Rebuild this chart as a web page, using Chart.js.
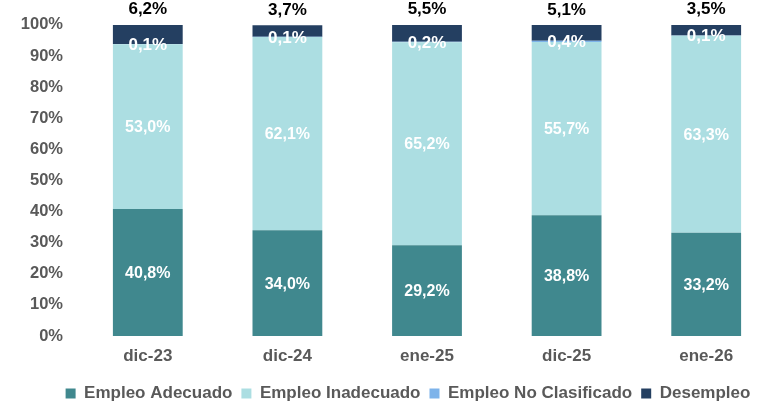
<!DOCTYPE html>
<html>
<head>
<meta charset="utf-8">
<script src="https://cdn.jsdelivr.net/npm/chart.js@4/dist/chart.umd.min.js"></script>
<style>
  html, body { margin: 0; padding: 0; background: #fff; }
  #wrap { width: 776px; height: 403px; position: relative; }
</style>
</head>
<body>
<div id="wrap"><canvas id="c"></canvas></div>
<script>
// Periods shown on the x axis
const periods = ['dic-23', 'dic-24', 'ene-25', 'dic-25', 'ene-26'];

// Share of each labour-market group (%)
const empleoAdecuado      = [40.8, 34.0, 29.2, 38.8, 33.2];
const empleoInadecuado    = [53.0, 62.1, 65.2, 55.7, 63.3];
const empleoNoClasificado = [0.1, 0.1, 0.2, 0.4, 0.1];
const desempleo           = [6.2, 3.7, 5.5, 5.1, 3.5];

const seriesNames = ['Empleo Adecuado', 'Empleo Inadecuado', 'Empleo No Clasificado', 'Desempleo'];

const FONT = "'Liberation Sans', Arial, Helvetica, sans-serif";
const GREY = '#595959';

const fmt = v => v.toFixed(1).replace('.', ',') + '%';

// Writes each segment's value on or above its bar
const barLabels = {
  id: 'barLabels',
  afterDatasetsDraw(chart) {
    const ctx = chart.ctx;
    ctx.save();
    ctx.textAlign = 'center';
    ctx.textBaseline = 'middle';
    chart.data.datasets.forEach((ds, di) => {
      const meta = chart.getDatasetMeta(di);
      if (meta.hidden) return;
      meta.data.forEach((bar, i) => {
        const v = ds.data[i];
        const p = bar.getProps(['x', 'y', 'base'], true);
        if (di === 0 || di === 1) {
          ctx.font = 'bold 16px ' + FONT;
          ctx.fillStyle = '#ffffff';
          ctx.fillText(fmt(v), p.x, (p.y + p.base) / 2 + 1);
        } else if (di === 2) {
          ctx.font = 'bold 17px ' + FONT;
          ctx.fillStyle = '#ffffff';
          ctx.fillText(fmt(v), p.x, (p.y + p.base) / 2 + 1);
        } else {
          ctx.font = 'bold 17px ' + FONT;
          ctx.fillStyle = '#000000';
          ctx.fillText(fmt(v), p.x, p.y - 15);
        }
      });
    });
    ctx.restore();
  }
};

// Nudges the legend row right and down
const legendShift = {
  id: 'legendShift',
  afterLayout(chart) {
    const lg = chart.legend;
    if (lg) {
      lg.left += 20; lg.right += 20;
      lg.top += 9; lg.bottom += 9;
    }
  }
};

const colors = ['#40888E', '#ACDEE2', '#7DB3EA', '#243F61'];
const values = [empleoAdecuado, empleoInadecuado, empleoNoClasificado, desempleo];

new Chart(document.getElementById('c'), {
  type: 'bar',
  data: {
    labels: periods,
    datasets: seriesNames.map((name, k) => ({
      label: name,
      data: values[k],
      backgroundColor: colors[k],
      borderWidth: 0,
      barPercentage: 0.5,
      categoryPercentage: 1.0
    }))
  },
  options: {
    responsive: true,
    maintainAspectRatio: false,
    animation: false,
    layout: { padding: { top: 24, left: 0, right: 0, bottom: 0 } },
    plugins: {
      legend: {
        position: 'bottom',
        labels: {
          boxWidth: 10,
          boxHeight: 10,
          padding: 9,
          color: GREY,
          font: { family: FONT, size: 17, weight: 'bold' }
        }
      },
      tooltip: { enabled: false }
    },
    scales: {
      x: {
        stacked: true,
        grid: { display: false, drawTicks: false },
        border: { display: false },
        ticks: {
          padding: 10,
          color: GREY,
          font: { family: FONT, size: 17, weight: 'bold' }
        },
        afterFit(scale) { scale.height = 31; }
      },
      y: {
        stacked: true,
        min: 0,
        max: 100,
        grid: { display: false, drawTicks: false },
        border: { display: false },
        ticks: {
          stepSize: 10,
          padding: 15,
          color: GREY,
          font: { family: FONT, size: 16.5, weight: 'bold' },
          callback: v => v + '%'
        },
        afterFit(scale) { scale.width = 78; }
      }
    }
  },
  plugins: [barLabels, legendShift]
});
</script>
</body>
</html>
